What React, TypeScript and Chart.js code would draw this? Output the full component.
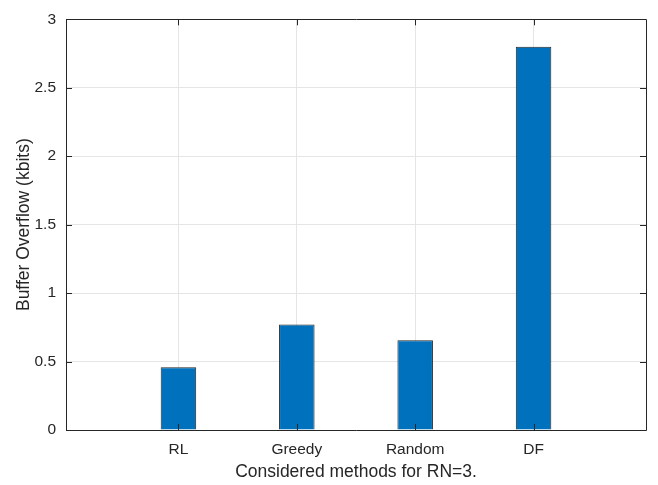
import React, { useEffect, useRef } from "react";
import { Chart, registerables } from "chart.js";

Chart.register(...registerables);

const categories = ["RL", "Greedy", "Random", "DF"];
const overflowValues = [0.458, 0.771, 0.655, 2.80];
const yTicks = [0, 0.5, 1, 1.5, 2, 2.5, 3];

const FONT = "'Liberation Sans', Arial, Helvetica, sans-serif";
const TEXT = "#262626";

const boxPlugin = {
  id: "matlabBox",
  afterDatasetsDraw(chart: any) {
    const { ctx, chartArea, scales } = chart;
    const { left, right, top, bottom } = chartArea;
    ctx.save();
    ctx.strokeStyle = TEXT;
    ctx.lineWidth = 1;
    ctx.beginPath();
    ctx.rect(Math.round(left) + 0.5, Math.round(top) + 0.5, Math.round(right - left), Math.round(bottom - top));
    ctx.stroke();
    const len = 6;
    ctx.beginPath();
    scales.x.ticks.forEach((t: any) => {
      const px = Math.round(scales.x.getPixelForValue(t.value)) + 0.5;
      ctx.moveTo(px, bottom);
      ctx.lineTo(px, bottom - len);
      ctx.moveTo(px, top);
      ctx.lineTo(px, top + len);
    });
    scales.y.ticks.forEach((t: any) => {
      const py = Math.round(scales.y.getPixelForValue(t.value)) + 0.5;
      ctx.moveTo(left, py);
      ctx.lineTo(left + len, py);
      ctx.moveTo(right, py);
      ctx.lineTo(right - len, py);
    });
    ctx.stroke();
    ctx.restore();
  },
};

export default function App() {
  const ref = useRef<HTMLCanvasElement | null>(null);

  useEffect(() => {
    document.body.style.margin = "0";
    const canvas = ref.current;
    if (!canvas) return;
    const chart = new Chart(canvas, {
      type: "bar",
      data: {
        datasets: [
          {
            data: overflowValues.map((v, i) => ({ x: i + 1, y: v })),
            backgroundColor: "#0072BD",
            borderColor: "#262626",
            borderWidth: 1,
            barPercentage: 0.3,
            categoryPercentage: 1,
          } as any,
        ],
      },
      options: {
        responsive: false,
        animation: false,
        layout: { padding: { top: 11, right: 12, left: 0, bottom: 0 } },
        plugins: { legend: { display: false }, tooltip: { enabled: false } },
        scales: {
          x: {
            type: "linear",
            offset: false,
            min: 0.05,
            max: 4.95,
            afterBuildTicks: (scale: any) => {
              scale.ticks = categories.map((_, i) => ({ value: i + 1 }));
            },
            afterFit: (scale: any) => {
              scale.height = 55;
            },
            ticks: {
              autoSkip: false,
              maxRotation: 0,
              padding: 10,
              color: TEXT,
              font: { family: FONT, size: 15.5 },
              callback: (v: any) => categories[Math.round(Number(v)) - 1] ?? "",
            },
            grid: { color: "#e5e5e5", drawTicks: false, offset: false },
            border: { display: false },
            title: {
              display: true,
              text: "Considered methods for RN=3.",
              color: TEXT,
              font: { family: FONT, size: 17.5 },
              padding: { top: 0, bottom: 2 },
            },
          },
          y: {
            min: 0,
            max: 3,
            afterBuildTicks: (scale: any) => {
              scale.ticks = yTicks.map((v) => ({ value: v }));
            },
            afterFit: (scale: any) => {
              scale.width = 66;
            },
            ticks: {
              padding: 10,
              color: TEXT,
              font: { family: FONT, size: 15.5 },
              callback: (v: any) => String(v),
            },
            grid: { color: "#e5e5e5", drawTicks: false },
            border: { display: false },
            title: {
              display: true,
              text: "Buffer Overflow (kbits)",
              color: TEXT,
              font: { family: FONT, size: 17.5 },
              padding: { top: 13.5, bottom: 0 },
            },
          },
        },
      },
      plugins: [boxPlugin],
    });
    return () => chart.destroy();
  }, []);

  return (
    <div style={{ width: 658, height: 485, background: "#fff" }}>
      <canvas ref={ref} width={658} height={485} style={{ display: "block" }} />
    </div>
  );
}
